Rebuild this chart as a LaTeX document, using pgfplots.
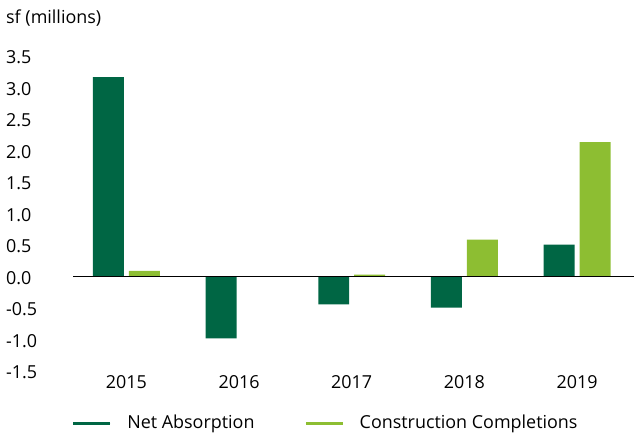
\documentclass[border=0pt]{standalone}
\usepackage{fontspec}
\setmainfont{Open Sans}
\usepackage{pgfplots}
\pgfplotsset{compat=1.18}
\definecolor{dgreen}{RGB}{0,102,68}
\definecolor{lgreen}{RGB}{141,190,50}
\begin{document}
\fontsize{18}{21}\selectfont
\begin{tikzpicture}
\begin{axis}[
  scale only axis,
  width=564bp, height=315bp,
  xmin=-0.5, xmax=4.5,
  ymin=-1.5, ymax=3.5,
  ybar=5bp, bar width=31bp,
  xtick={0,1,2,3,4},
  xticklabels={2015,2016,2017,2018,2019},
  ytick={-1.5,-1,-0.5,0,0.5,1,1.5,2,2.5,3,3.5},
  yticklabels={-1.5,-1.0,-0.5,0.0,0.5,1.0,1.5,2.0,2.5,3.0,3.5},
  axis line style={draw=none},
  tick style={draw=none},
  major tick length=0pt,
  yticklabel style={anchor=west, xshift=-64bp, yshift=-1bp, inner sep=0pt},
  xticklabel style={inner sep=0pt, yshift=-4bp},
  ticklabel style={font=\fontsize{18}{21}\selectfont},
  clip=false,
  legend columns=2,
  legend style={at={(0,0)}, anchor=north west, xshift=-1bp, yshift=-42bp, draw=none, fill=none,
    font=\fontsize{18}{21}\selectfont,
    /tikz/every even column/.append style={column sep=50bp},
    nodes={inner sep=0pt, anchor=west}},
]
\addplot[fill=dgreen, draw=none,
  legend image code/.code={\draw[dgreen, line width=2.5bp] (0bp,0bp) -- (37bp,0bp); \path (54bp,0bp);}]
  coordinates {(0,3.17) (1,-0.98) (2,-0.44) (3,-0.49) (4,0.51)};
\addlegendentry{Net Absorption}
\addplot[fill=lgreen, draw=none,
  legend image code/.code={\draw[lgreen, line width=2.5bp] (0bp,0bp) -- (37bp,0bp); \path (54bp,0bp);}]
  coordinates {(0,0.095) (1,0) (2,0.035) (3,0.59) (4,2.14)};
\addlegendentry{Construction Completions}
\draw[black, line width=1bp] (axis cs:-0.47,0) -- (axis cs:4.5,0);
\node[anchor=west, inner sep=0pt] at (rel axis cs:0,1) [xshift=-64bp, yshift=38bp] {sf (millions)};
\path (rel axis cs:0,0) ++(-70bp,-62.5bp);
\path (rel axis cs:1,1) ++(0bp,56.5bp);
\end{axis}
\end{tikzpicture}
\end{document}
